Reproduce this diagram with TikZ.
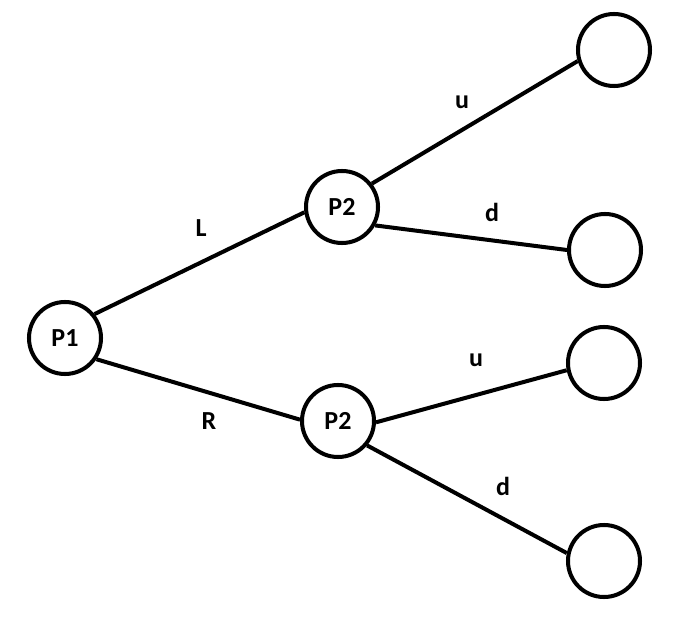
\documentclass[tikz,border=0pt]{standalone}
\usepackage{fontspec}
\setmainfont{Carlito}
\usetikzlibrary{positioning}
\tikzset{%
player/.style={draw,circle,line width=2.85pt,minimum size=1.8cm,inner sep=0pt,font=\bfseries\fontsize{18.5}{20}\selectfont},
outcome/.style={player},
move/.style={font=\bfseries\fontsize{18.5}{20}\selectfont,inner sep=1pt},
branch/.style={line width=2.85pt}
}

\begin{document}
\begin{tikzpicture}[x=0.025cm,y=-0.025cm]
  \useasboundingbox (0,0) rectangle (690,629);

  \node[player] (p1) at (65,338) {P1};
  \node[player] (p2u) at (342,207) {P2};
  \node[player] (p2d) at (338,421) {P2};

  \node[outcome] (o1) at (614,50) {};
  \node[outcome] (o2) at (605,250) {};
  \node[outcome] (o3) at (604,363) {};
  \node[outcome] (o4) at (604,561) {};

  \draw[branch] (p1.39) -- (p2u.188);
  \draw[branch] (p1.326) -- (p2d.178);
  \draw[branch] (p2u.38) -- (o1.197);
  \draw[branch] (p2u.331) -- (o2.180);
  \draw[branch] (p2d.358) -- (o3.191);
  \draw[branch] (p2d.320) -- (o4.168);

  % move labels
  \node[move] (l) at (201,228) {L};
  \node[move] (r) at (209,421) {R};
  \node[move] (u1) at (462,102) {u};
  \node[move] (d1) at (492,212) {d};
  \node[move] (u2) at (476,360) {u};
  \node[move] (d2) at (503,486) {d};
\end{tikzpicture}
\end{document}
